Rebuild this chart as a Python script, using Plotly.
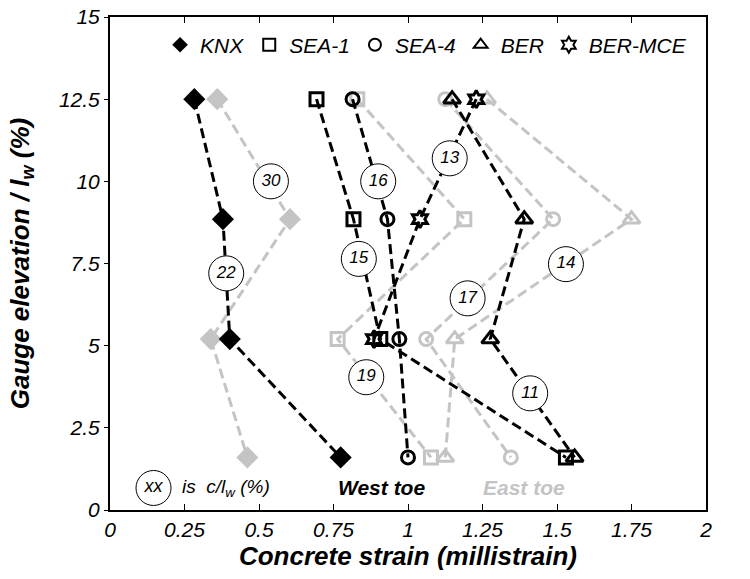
import plotly.graph_objects as go

# Gauge elevations (% of lw)
elev = [12.5, 8.85, 5.2, 1.6]
elev3 = [12.5, 8.85, 5.2]

# West toe (black) strains, millistrain
west_knx = [0.283, 0.379, 0.402, 0.774]
west_sea1 = [0.693, 0.817, 0.907, 1.530]
west_sea4 = [0.814, 0.931, 0.971, 1.000]
west_ber = [1.148, 1.390, 1.276, 1.559]
west_bermce = [1.229, 1.040, 0.886]

# East toe (grey) strains, millistrain
east_knx = [0.360, 0.604, 0.338, 0.461]
east_sea1 = [0.830, 1.189, 0.764, 1.077]
east_sea4 = [1.125, 1.487, 1.061, 1.345]
east_ber = [1.265, 1.750, 1.157, 1.125]

# c/lw labels (value, x, y)
lab_text = ["30", "22", "16", "15", "19", "13", "17", "14", "11"]
lab_x = [0.54, 0.39, 0.90, 0.835, 0.86, 1.14, 1.20, 1.53, 1.41]
lab_y = [10.0, 7.2, 10.0, 7.64, 4.04, 10.7, 6.44, 7.48, 3.55]

series_names = ["KNX", "SEA-1", "SEA-4", "BER", "BER-MCE"]
x_ticks = [0, 0.25, 0.5, 0.75, 1, 1.25, 1.5, 1.75, 2]
x_tick_text = ["0", "0.25", "0.5", "0.75", "1", "1.25", "1.5", "1.75", "2"]
y_ticks = [0, 2.5, 5, 7.5, 10, 12.5, 15]
y_tick_text = ["0", "2.5", "5", "7.5", "10", "12.5", "15"]

BLACK = "#000000"
GREY = "#c4c4c4"
FONT = "Liberation Sans, Arial, sans-serif"

fig = go.Figure()

symbols = ["diamond", "square-open", "circle-open", "triangle-up-open", "hexagram-open"]
sizes = [17, 13, 13, 15, 13]


def add_series(xs, ys, color, sym, size):
    filled = sym == "diamond"
    fig.add_trace(go.Scatter(
        x=xs, y=ys, mode="lines+markers", showlegend=False,
        line=dict(color=color, width=3, dash="10px,5px"),
        marker=dict(symbol=sym, size=size, color=color,
                    line=dict(color=color, width=0 if filled else 3)),
        hoverinfo="skip"))


# East toe (grey) behind
for xs, sym, sz in zip([east_knx, east_sea1, east_sea4, east_ber], symbols[:4], sizes[:4]):
    add_series(xs, elev, GREY, sym, sz)
# West toe (black)
for xs, sym, sz in zip([west_knx, west_sea1, west_sea4, west_ber], symbols[:4], sizes[:4]):
    add_series(xs, elev, BLACK, sym, sz)
add_series(west_bermce, elev3, BLACK, symbols[4], sizes[4])

# Legend-only traces
for name, sym in zip(series_names, symbols):
    fig.add_trace(go.Scatter(
        x=[None], y=[None], mode="markers", name=name,
        marker=dict(symbol=sym, size=15, color=BLACK,
                    line=dict(color=BLACK, width=0 if sym == "diamond" else 1.5))))

# c/lw circle labels
fig.add_trace(go.Scatter(
    x=lab_x, y=lab_y, mode="markers+text", text=lab_text, showlegend=False,
    textposition="middle center",
    textfont=dict(family=FONT, size=17, color=BLACK, style="italic"),
    marker=dict(symbol="circle", size=35, color="white",
                line=dict(color=BLACK, width=1)),
    hoverinfo="skip"))

# key circle
fig.add_trace(go.Scatter(
    x=[0.146], y=[0.67], mode="markers+text", text=["xx"], showlegend=False,
    textposition="middle center",
    textfont=dict(family=FONT, size=18, color=BLACK, style="italic"),
    marker=dict(symbol="circle", size=35, color="white",
                line=dict(color=BLACK, width=1)),
    hoverinfo="skip"))

fig.add_annotation(x=0.235, y=0.67, xanchor="left", yanchor="middle",
                   text="is  c/l<sub>w</sub> (%)", showarrow=False,
                   font=dict(family=FONT, size=19, color=BLACK, style="italic"))
fig.add_annotation(x=0.91, y=0.67, xanchor="center", yanchor="middle",
                   text="West toe", showarrow=False,
                   font=dict(family=FONT, size=21, color=BLACK, style="italic", weight="bold"))
fig.add_annotation(x=1.39, y=0.67, xanchor="center", yanchor="middle",
                   text="East toe", showarrow=False,
                   font=dict(family=FONT, size=21, color=GREY, style="italic", weight="bold"))

fig.update_layout(
    width=750, height=579,
    margin=dict(l=110, r=44, t=17, b=69, autoexpand=False),
    plot_bgcolor="white", paper_bgcolor="white",
    font=dict(family=FONT, color=BLACK),
    legend=dict(orientation="h", x=0.084, y=0.943, xanchor="left", yanchor="middle",
                bgcolor="rgba(0,0,0,0)",
                font=dict(family=FONT, size=21, style="italic"),
                itemsizing="constant", tracegroupgap=0),
    xaxis=dict(range=[0, 2], tickvals=x_ticks, ticktext=x_tick_text, automargin=False,
               ticklabeloverflow="allow",
               showgrid=False, zeroline=False, showline=True, linecolor=BLACK,
               linewidth=2, mirror="ticks", ticks="inside", ticklen=6, tickcolor=BLACK,
               tickfont=dict(family=FONT, size=21, style="italic"),
               title=dict(text="Concrete strain (millistrain)", standoff=5,
                          font=dict(family=FONT, size=26, style="italic", weight="bold"))),
    yaxis=dict(range=[0, 15], tickvals=y_ticks, ticktext=y_tick_text, automargin=False,
               ticklabeloverflow="allow",
               showgrid=False, zeroline=False, showline=True, linecolor=BLACK,
               linewidth=2, mirror=True, ticks="outside", ticklen=4, tickcolor=BLACK,
               tickfont=dict(family=FONT, size=21, style="italic"),
               title=dict(text="Gauge elevation / l<sub>w</sub> (%)", standoff=22,
                          font=dict(family=FONT, size=26, style="italic", weight="bold"))),
)

fig.write_html("out.html", config={"displayModeBar": False},
               post_script="document.body.style.margin='0px';")
